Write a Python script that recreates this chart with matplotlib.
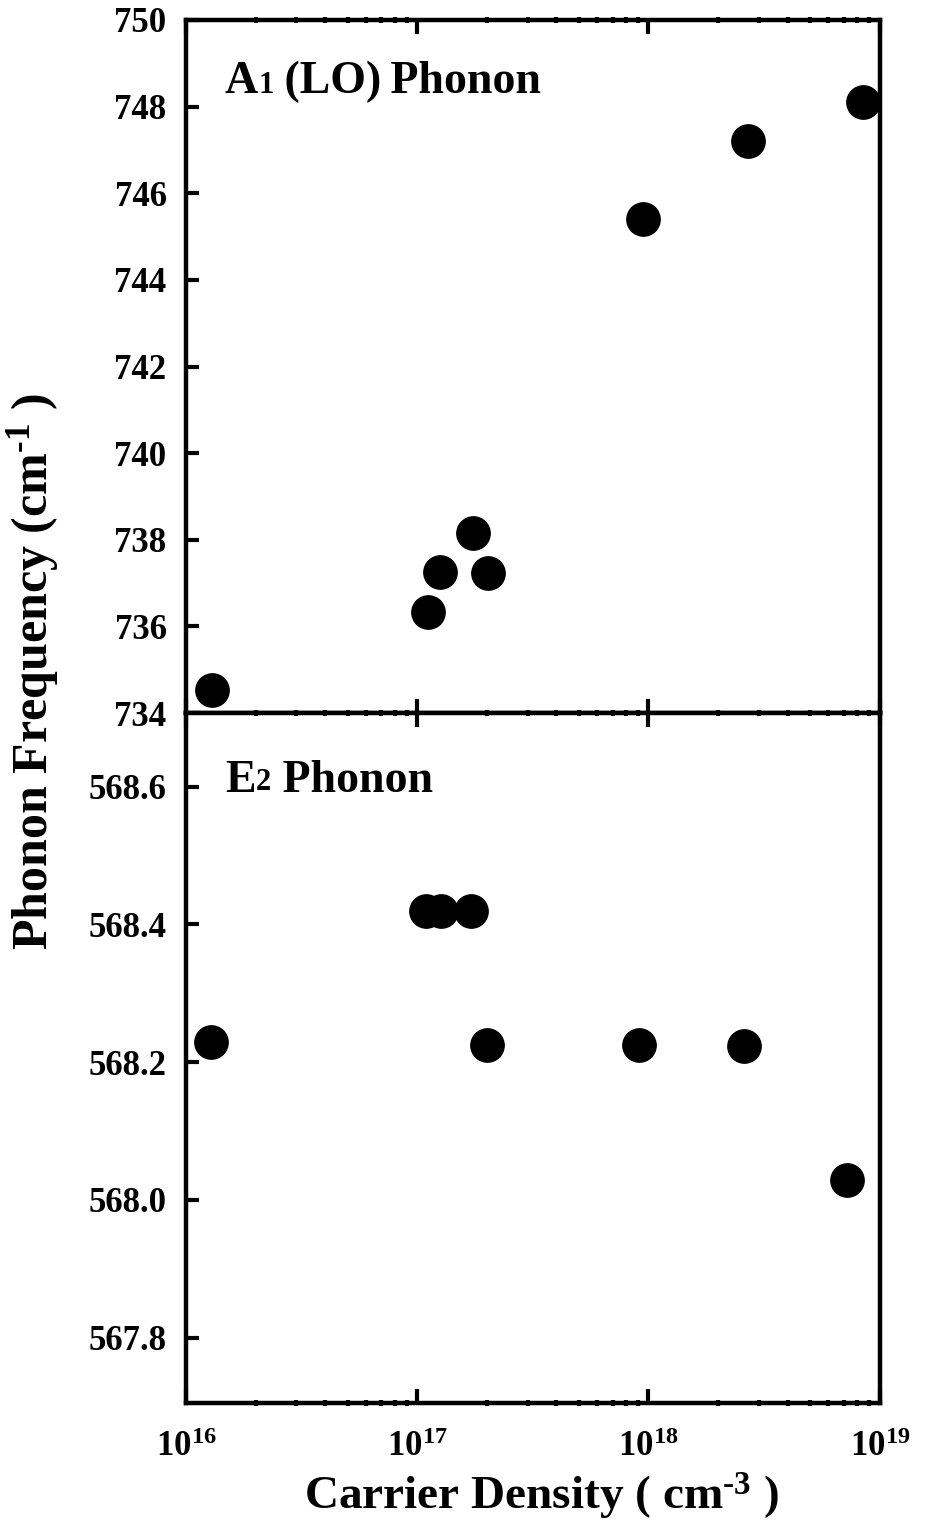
import numpy as np
import matplotlib
matplotlib.use("Agg")
import matplotlib.pyplot as plt
from matplotlib.ticker import LogLocator, NullFormatter, FixedLocator
from matplotlib.transforms import offset_copy

plt.rcParams['font.family'] = ['Liberation Serif', 'DejaVu Serif']
plt.rcParams['font.weight'] = 'bold'
plt.rcParams['mathtext.fontset'] = 'custom'
plt.rcParams['mathtext.rm'] = 'Liberation Serif:bold'
plt.rcParams['mathtext.bf'] = 'Liberation Serif:bold'
plt.rcParams['mathtext.it'] = 'Liberation Serif:bold'

# A1(LO) phonon data
a1_density = [1.3e16, 1.11e17, 1.26e17, 1.74e17, 2.02e17, 9.5e17, 2.69e18, 8.5e18]
a1_freq = [734.53, 736.33, 737.25, 738.15, 737.23, 745.40, 747.21, 748.11]

# E2 phonon data
e2_density = [1.28e16, 1.09e17, 1.27e17, 1.70e17, 2.0e17, 9.1e17, 2.6e18, 7.2e18]
e2_freq = [568.229, 568.419, 568.419, 568.419, 568.225, 568.225, 568.223, 568.029]

a1_ticks = [734, 736, 738, 740, 742, 744, 746, 748, 750]
e2_ticks = [567.8, 568.0, 568.2, 568.4, 568.6]

fig = plt.figure(figsize=(9.27, 15.23), dpi=100)
left, right = 0.2006, 0.949
bot, mid, top = 0.0788, 0.5318, 0.9869
ax1 = fig.add_axes([left, mid, right - left, top - mid])
ax2 = fig.add_axes([left, bot, right - left, mid - bot], sharex=ax1)

for ax in (ax1, ax2):
    ax.set_xscale('log')
    ax.set_xlim(1e16, 1e19)
    for s in ax.spines.values():
        s.set_linewidth(3.2)
    ax.xaxis.set_major_locator(LogLocator(base=10, numticks=10))
    ax.xaxis.set_minor_locator(LogLocator(base=10, subs=np.arange(2, 10), numticks=30))
    ax.xaxis.set_minor_formatter(NullFormatter())
    ax.tick_params(axis='x', which='major', direction='in', length=10, width=3,
                   top=True, bottom=True, labelsize=25, pad=20)
    ax.tick_params(axis='x', which='minor', direction='inout', length=5, width=3,
                   top=True, bottom=True)
    ax.tick_params(axis='y', which='major', direction='in', length=9, width=3,
                   left=True, right=False, labelsize=25, pad=14)

ax1.scatter(a1_density, a1_freq, s=24**2, color='black', zorder=5, clip_on=False)
ax1.set_ylim(734, 750)
ax1.yaxis.set_major_locator(FixedLocator(a1_ticks))
ax1.set_yticklabels([str(t) for t in a1_ticks])
ax1.tick_params(axis='x', labelbottom=False)

ax2.scatter(e2_density, e2_freq, s=24**2, color='black', zorder=5, clip_on=False)
ax2.set_ylim(567.705, 568.707)
ax2.yaxis.set_major_locator(FixedLocator(e2_ticks))
ax2.set_yticklabels(['%.1f' % t for t in e2_ticks])


def run_label(ax, x, y, pieces):
    # pieces: list of (text, fontsize, raise_px) drawn one after another on a baseline
    fig.canvas.draw()
    r = fig.canvas.get_renderer()
    trans = ax.transAxes
    dx = 0
    for txt, size, dy in pieces:
        t = ax.text(x, y, txt, fontsize=size, fontweight='bold', va='baseline',
                    transform=offset_copy(trans, fig=fig, x=dx, y=dy, units='dots'))
        dx += t.get_window_extent(r).width


run_label(ax1, 0.056, 0.895, [('A', 33, 0), ('1', 22, 0), (' (LO)\u2009Phonon', 33, 0)])
run_label(ax2, 0.056, 0.885, [('E', 33, 0), ('2', 22, 2), (' Phonon', 33, 0)])

ax2.set_xlabel('Carrier Density ( cm$^{\\mathregular{\u20103}}$ )', fontsize=34,
               fontweight='bold')
ax2.xaxis.set_label_coords(0.513, -0.098)
fig.text(0.036, 0.559, 'Phonon Frequency (cm$^{\\mathregular{\u20101}}$ )', rotation=90,
         fontsize=36, fontweight='bold', ha='center', va='center')

fig.savefig('out.png', dpi=100)
